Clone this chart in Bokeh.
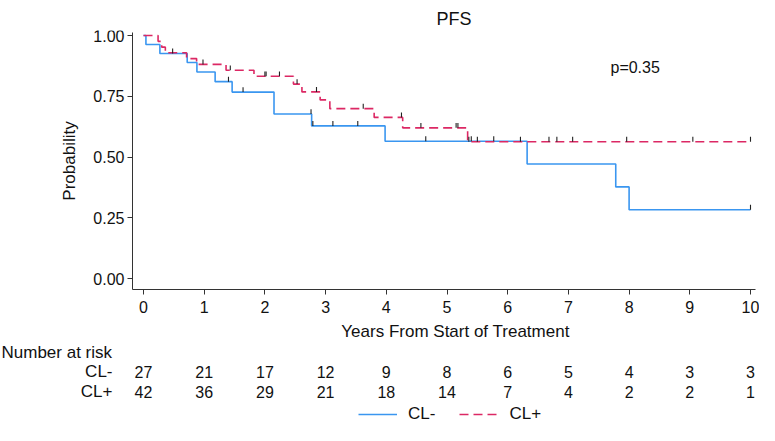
import numpy as np
from bokeh.plotting import figure
from bokeh.models import (Range1d, FixedTicker, Label, LabelSet, Legend, LegendItem,
                          ColumnDataSource, NumeralTickFormatter, LinearAxis)
from bokeh.core.properties import value
from bokeh.embed import file_html
from bokeh.resources import INLINE

# ---------------- data ----------------
groups = ["CL-", "CL+"]
colors = ["#3a96f0", "#dc2864"]

t_neg = [0.0, 0.04, 0.27, 0.72, 0.88, 1.18, 1.46, 2.15, 2.77, 3.98, 6.32, 7.78, 8.00, 10.0]
s_neg = [1.0, 0.963, 0.926, 0.889, 0.850, 0.810, 0.767, 0.677, 0.628, 0.565, 0.471, 0.377, 0.283, 0.283]
c_neg = [0.48, 1.40, 1.64, 2.76, 2.79, 3.12, 3.53, 4.65, 5.40, 5.77, 10.0]

t_pos = [0.0, 0.24, 0.30, 0.36, 0.71, 0.875, 1.36, 1.82, 2.47, 2.61, 2.91, 3.07, 3.80, 4.27, 5.34, 10.0]
s_pos = [1.0, 0.976, 0.952, 0.929, 0.905, 0.881, 0.857, 0.832, 0.800, 0.768, 0.735, 0.699, 0.663, 0.620, 0.563, 0.563]
c_pos = [0.98, 1.43, 2.00, 2.02, 2.24, 2.53, 2.85, 3.62, 4.25, 4.57, 5.15, 5.18, 5.36, 5.50,
         6.21, 6.68, 6.81, 7.07, 7.96, 9.05, 10.0]

risk_times = [0, 1, 2, 3, 4, 5, 6, 7, 8, 9, 10]
risk_neg = [27, 21, 17, 12, 9, 8, 6, 5, 4, 3, 3]
risk_pos = [42, 36, 29, 21, 18, 14, 7, 4, 2, 2, 1]

y_ticks = [0, 0.25, 0.5, 0.75, 1.0]
x_ticks = [0, 1, 2, 3, 4, 5, 6, 7, 8, 9, 10]
p_text = "p=0.35"
risk_title = "Number at risk"
x_title = "Years From Start of Treatment"
y_title = "Probability"

FONT = "Liberation Sans"
AX = "#333333"
TXT = "#111111"

# ---------------- layout constants (pixels) ----------------
W, H = 759, 425
TOP = 30                   # frame top (title panel above)
PX_X0, PX_X10 = 143, 750   # pixel of x=0 and x=10
PX_Y1, PX_Y0 = 35, 278     # pixel of y=1 and y=0
AXIS_LEFT_PX, AXIS_RIGHT_PX = 132, 755
AXIS_BOTTOM_PX, AXIS_TOP_PX = 289, 32
XLABEL_PX = (455, 331)
RISK_TITLE_PY = 352
ROW_PX = [371, 391]
ROWLABEL_PX = 112

ppx = (PX_X10 - PX_X0) / 10.0
ppy = (PX_Y0 - PX_Y1) / 1.0


def x_at(px):
    return (px - PX_X0) / ppx


def y_at(py):
    return (PX_Y0 - py) / ppy


p = figure(width=W, height=H, output_backend="svg", toolbar_location=None,
           x_range=Range1d(x_at(0), x_at(W)), y_range=Range1d(y_at(H), y_at(TOP)),
           min_border_left=0, min_border_right=0, min_border_bottom=0,
           min_border_top=TOP, x_axis_type=None, y_axis_type=None, title="PFS")
p.title.align = "left"
p.title.offset = 436
p.title.text_font = FONT
p.title.text_font_size = "18px"
p.title.text_font_style = "normal"
p.title.text_color = TXT
p.title.standoff = 3
p.outline_line_color = None
p.grid.visible = False

xax = LinearAxis(fixed_location=y_at(AXIS_BOTTOM_PX),
                 bounds=(x_at(AXIS_LEFT_PX), x_at(AXIS_RIGHT_PX)))
yax = LinearAxis(fixed_location=x_at(AXIS_LEFT_PX),
                 bounds=(y_at(AXIS_BOTTOM_PX), y_at(AXIS_TOP_PX)))
p.add_layout(xax, "below")
p.add_layout(yax, "left")

for ax in (xax, yax):
    ax.axis_line_color = AX
    ax.major_tick_line_color = AX
    ax.minor_tick_line_color = None
    ax.major_tick_out = 5
    ax.major_tick_in = 0
    ax.major_label_text_font = FONT
    ax.major_label_text_font_size = "16px"
    ax.major_label_text_color = TXT
    ax.axis_label_text_font = FONT
    ax.axis_label_text_font_size = "17px"
    ax.axis_label_text_font_style = "normal"
    ax.axis_label_text_color = TXT

xax.ticker = FixedTicker(ticks=x_ticks)
yax.ticker = FixedTicker(ticks=y_ticks)
yax.formatter = NumeralTickFormatter(format="0.00")
yax.major_label_orientation = "horizontal"
yax.axis_label = y_title
xax.major_label_standoff = 6
yax.major_label_standoff = 3
yax.axis_label_standoff = 11

p.add_layout(Label(x=x_at(XLABEL_PX[0]), y=y_at(XLABEL_PX[1]), text=x_title, text_align="center",
                   text_baseline="middle", text_font=FONT, text_font_size="17px",
                   text_color=TXT))


def level_at(times, surv, c):
    idx = np.searchsorted(np.array(times), np.array(c), side="right") - 1
    return np.array(surv)[idx]


series = [
    (t_neg, s_neg, c_neg, colors[0], "solid"),
    (t_pos, s_pos, c_pos, colors[1], "9 5"),
]
renderers = []
for t, s, c, col, dash in series:
    r = p.step(x=t, y=s, mode="after", line_color=col, line_width=1.6, line_dash=dash)
    renderers.append(r)
for t, s, c, col, dash in series:
    lv = level_at(t, s, c)
    p.segment(x0=c, y0=lv, x1=c, y1=lv + 0.02, line_color="#222222", line_width=1.1)

p.add_layout(Label(x=8.1, y=0.867, text=p_text, text_align="center", text_baseline="middle",
                   text_font=FONT, text_font_size="16px", text_color=TXT))

# ---------------- number-at-risk table ----------------
p.add_layout(Label(x=x_at(1), y=y_at(RISK_TITLE_PY), text=risk_title, text_align="left",
                   text_baseline="middle", text_font=FONT, text_font_size="17px", text_color=TXT))
for g, counts, ry in zip(groups, (risk_neg, risk_pos), ROW_PX):
    p.add_layout(Label(x=x_at(ROWLABEL_PX), y=y_at(ry), text=g, text_align="right",
                       text_baseline="middle", text_font=FONT, text_font_size="17px",
                       text_color=TXT))
    src = ColumnDataSource(dict(x=risk_times, y=[y_at(ry)] * len(risk_times),
                                t=[str(v) for v in counts]))
    p.add_layout(LabelSet(x="x", y="y", text="t", source=src, text_align="center",
                          text_baseline="middle", text_font=value(FONT),
                          text_font_size=value("16px"), text_color=TXT))

# ---------------- legend ----------------
leg = Legend(items=[LegendItem(label=g, renderers=[r]) for g, r in zip(groups, renderers)],
             orientation="horizontal", location=(358, 1),
             label_text_font=FONT, label_text_font_size="17px", label_text_color=TXT,
             glyph_width=39, glyph_height=16, label_height=16, spacing=24,
             padding=0, margin=0, border_line_color=None, background_fill_alpha=0,
             label_standoff=11)
p.add_layout(leg, "center")

open("out.html", "w").write(file_html(p, INLINE))
